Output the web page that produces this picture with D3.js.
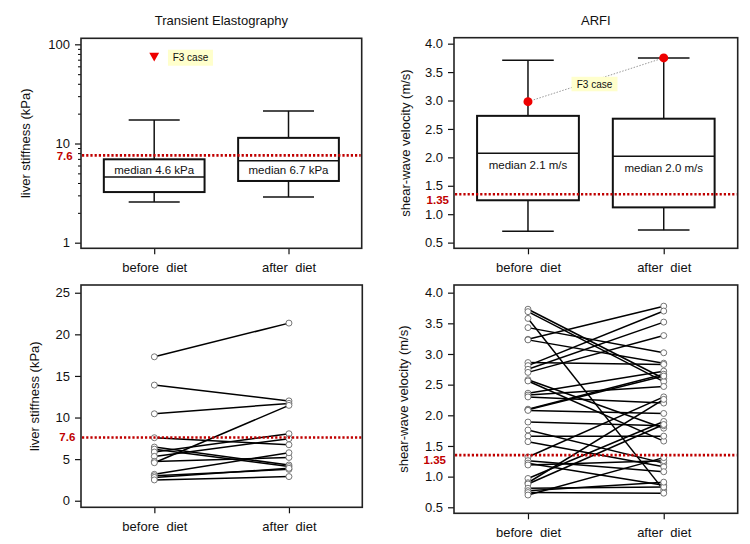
<!DOCTYPE html>
<html><head><meta charset="utf-8">
<script src="https://cdn.jsdelivr.net/npm/d3@7"></script>
<style>
body{margin:0;background:#fff;}
svg{font-family:"Liberation Sans",Arial,sans-serif;}
</style></head><body>
<svg id="c" width="750" height="544"></svg>
<script>
// ---------- DATA ----------
const groups = ["before  diet", "after  diet"];
const groupPos = [1, 2];

// Box statistics [min, q1, median, q3, max]
const teBoxBefore = [2.57, 3.24, 4.59, 6.93, 17.3];
const teBoxAfter  = [2.89, 4.19, 6.71, 11.4, 21.3];
const teMedianLabels = ["median 4.6 kPa", "median 6.7 kPa"];
const teF3Before = 75;

const arfiBoxBefore = [0.70, 1.245, 2.07, 2.73, 3.71];
const arfiBoxAfter  = [0.72, 1.12, 2.02, 2.68, 3.75];
const arfiMedianLabels = ["median 2.1 m/s", "median 2.0 m/s"];
const arfiF3 = [2.98, 3.75];

// Paired values
const teBefore = [17.3, 13.9, 10.45, 7.57, 6.45, 6.2, 5.85, 5.33, 4.73, 4.57, 3.17, 3.0, 2.8, 2.5];
const teAfter  = [21.35, 12.0, 11.7, 6.73, 4.29, 4.1, 8.05, 7.45, 5.2, 11.46, 5.77, 3.77, 3.9, 2.9];

const arfiBefore = [3.73, 3.69, 3.58, 3.43, 3.24, 3.23, 2.86, 2.81, 2.75, 2.70,
  2.58, 2.56, 2.36, 2.33, 2.30, 2.10, 2.09, 2.08, 1.89, 1.76, 1.66, 1.57,
  1.32, 1.26, 1.22, 1.19, 0.97, 0.90, 0.88, 0.81, 0.77, 0.74, 0.70];
const arfiAfter = [2.60, 2.55, 0.78, 3.02, 3.78, 2.85, 2.83, 3.70, 3.52, 3.30,
  1.79, 1.58, 2.72, 2.47, 2.20, 2.67, 2.64, 2.03, 1.83, 1.22, 1.66, 1.16,
  2.30, 1.08, 0.86, 1.26, 1.90, 2.26, 1.85, 0.83, 0.91, 0.73, 1.31];

// Ticks and thresholds
const teLogTicks = [1, 10, 100];
const teLogMinor = [2,3,4,5,6,7,8,9,20,30,40,50,60,70,80,90];
const teLinTicks = [0, 5, 10, 15, 20, 25];
const arfiTicks = [0.5, 1.0, 1.5, 2.0, 2.5, 3.0, 3.5, 4.0];
const teCutoff = 7.6, arfiCutoff = 1.35;

// ---------- DRAWING ----------
const svg = d3.select("#c");
const RED = "#c00000";
const xDomain = [0.455, 2.545];

function panel(p) {
  const g = svg.append("g");
  const x = d3.scaleLinear().domain(xDomain).range([p.left, p.right]);
  const y = (p.log ? d3.scaleLog() : d3.scaleLinear()).domain(p.yDomain).range([p.bottom, p.top]);

  // y axis
  const ya = g.append("g").attr("transform", `translate(${p.left},0)`)
    .call(d3.axisLeft(y).tickValues(p.ticks).tickFormat(p.fmt).tickSize(6).tickPadding(5));
  if (p.minor) {
    g.append("g").attr("transform", `translate(${p.left},0)`)
      .call(d3.axisLeft(y).tickValues(p.minor).tickFormat("").tickSize(3))
      .call(s => s.select(".domain").remove());
  }
  // x axis
  const xa = g.append("g").attr("transform", `translate(0,${p.bottom})`)
    .call(d3.axisBottom(x).tickValues(groupPos).tickFormat((d, i) => groups[i]).tickSize(6).tickPadding(8));
  [ya, xa].forEach(a => {
    a.attr("font-size", 13).attr("font-family", "Liberation Sans, Arial, sans-serif");
    a.select(".domain").remove();
    a.selectAll("line").attr("stroke", "#111").attr("stroke-width", 1.2);
    a.selectAll("text").attr("fill", "#111").style("white-space", "pre");
  });

  // title
  if (p.title) g.append("text").attr("x", (p.left + p.right) / 2).attr("y", 25)
    .attr("text-anchor", "middle").attr("font-size", 13).attr("fill", "#111").text(p.title);
  // y label
  const cy = (p.top + p.bottom) / 2;
  g.append("text").attr("transform", `translate(${p.ylabX},${cy}) rotate(-90)`)
    .attr("text-anchor", "middle").attr("font-size", 13).attr("fill", "#111").text(p.ylabel);

  return {g, x, y};
}

function frame(P, p) {
  P.g.append("rect").attr("x", p.left).attr("y", p.top)
    .attr("width", p.right - p.left).attr("height", p.bottom - p.top)
    .attr("fill", "none").attr("stroke", "#222").attr("stroke-width", 1.6);
}

function cutoff(P, p, v, label, dy, rx) {
  P.g.append("line").attr("x1", p.left + 1).attr("x2", p.right - 1)
    .attr("y1", P.y(v)).attr("y2", P.y(v))
    .attr("stroke", RED).attr("stroke-width", 2.6).attr("stroke-dasharray", "2.2,2");
  P.g.append("text").attr("x", rx).attr("y", P.y(v) + dy)
    .attr("text-anchor", "end").attr("font-size", 11.5).attr("font-weight", "bold")
    .attr("fill", RED).text(label);
}

function boxes(P, stats, labels, offs) {
  stats.forEach((s, i) => {
    const cx = P.x(groupPos[i]);
    const hw = P.x(groupPos[i] + 0.375) - cx, cw = P.x(groupPos[i] + 0.19) - cx;
    const g = P.g;
    g.append("line").attr("x1", cx).attr("x2", cx).attr("y1", P.y(s[4])).attr("y2", P.y(s[3]))
      .attr("stroke", "#111").attr("stroke-width", 1.5);
    g.append("line").attr("x1", cx).attr("x2", cx).attr("y1", P.y(s[1])).attr("y2", P.y(s[0]))
      .attr("stroke", "#111").attr("stroke-width", 1.5);
    [s[0], s[4]].forEach(v => g.append("line").attr("x1", cx - cw).attr("x2", cx + cw)
      .attr("y1", P.y(v)).attr("y2", P.y(v)).attr("stroke", "#111").attr("stroke-width", 1.5));
    g.append("rect").attr("x", cx - hw).attr("y", P.y(s[3])).attr("width", 2 * hw)
      .attr("height", P.y(s[1]) - P.y(s[3])).attr("fill", "#fff").attr("stroke", "#111").attr("stroke-width", 2);
    g.append("line").attr("x1", cx - hw).attr("x2", cx + hw).attr("y1", P.y(s[2])).attr("y2", P.y(s[2]))
      .attr("stroke", "#111").attr("stroke-width", 1.5);
    g.append("text").attr("x", cx).attr("y", P.y(s[2]) + offs[i] + 4)
      .attr("text-anchor", "middle").attr("font-size", 11.5).attr("fill", "#111").text(labels[i]);
  });
}

function pairs(P, before, after) {
  before.forEach((b, i) => {
    P.g.append("line").attr("x1", P.x(1)).attr("x2", P.x(2))
      .attr("y1", P.y(b)).attr("y2", P.y(after[i]))
      .attr("stroke", "#000").attr("stroke-width", 1.5);
  });
  [[1, before], [2, after]].forEach(([gx, vals]) => {
    P.g.selectAll(null).data(vals).enter().append("circle")
      .attr("cx", P.x(gx)).attr("cy", d => P.y(d)).attr("r", 3)
      .attr("fill", "#fff").attr("stroke", "#666").attr("stroke-width", 0.9);
  });
}

function f3Label(P, cx, cy, w, h) {
  P.g.append("rect").attr("x", cx - w / 2).attr("y", cy - h / 2).attr("width", w).attr("height", h)
    .attr("fill", "#ffffcc");
  P.g.append("text").attr("x", cx).attr("y", cy + 3.5).attr("text-anchor", "middle")
    .attr("font-size", 10).attr("fill", "#111").text("F3 case");
}

// Top-left: Transient Elastography (log)
const p1 = {left: 81, right: 361.7, top: 38.3, bottom: 248.3, log: true, yDomain: [0.878, 115],
  ticks: teLogTicks, minor: teLogMinor, fmt: d3.format("d"), title: "Transient Elastography",
  ylabel: "liver stiffness (kPa)", ylabX: 29.5};
const P1 = panel(p1);
boxes(P1, [teBoxBefore, teBoxAfter], teMedianLabels, [-7, 9]);
P1.g.append("path").attr("d", d3.symbol(d3.symbolTriangle, 42)())
  .attr("transform", `translate(${P1.x(1)},${P1.y(teF3Before) - 1}) rotate(180)`).attr("fill", "#ee0000");
f3Label(P1, P1.x(1.27), P1.y(teF3Before) + 1, 45, 16);
cutoff(P1, p1, teCutoff, "7.6", 4.5, 72.7);
frame(P1, p1);

// Top-right: ARFI
const p2 = {left: 454, right: 737.7, top: 37.7, bottom: 248.3, log: false, yDomain: [0.40, 4.105],
  ticks: arfiTicks, fmt: d3.format(".1f"), title: "ARFI",
  ylabel: "shear-wave velocity (m/s)", ylabX: 409.5};
const P2 = panel(p2);
boxes(P2, [arfiBoxBefore, arfiBoxAfter], arfiMedianLabels, [12, 12]);
P2.g.append("line").attr("x1", P2.x(1)).attr("x2", P2.x(2)).attr("y1", P2.y(arfiF3[0])).attr("y2", P2.y(arfiF3[1]))
  .attr("stroke", "#999").attr("stroke-width", 1).attr("stroke-dasharray", "1.5,1.5");
arfiF3.forEach((v, i) => P2.g.append("circle").attr("cx", P2.x(groupPos[i])).attr("cy", P2.y(v)).attr("r", 4.5).attr("fill", "#ee0000"));
f3Label(P2, P2.x(1.49), P2.y(3.29), 46, 14.5);
cutoff(P2, p2, arfiCutoff, "1.35", 9.5, 449);
frame(P2, p2);

// Bottom-left: TE paired
const p3 = {left: 81, right: 362.3, top: 285, bottom: 507.3, log: false, yDomain: [-0.79, 25.93],
  ticks: teLinTicks, fmt: d3.format("d"), ylabel: "liver stiffness (kPa)", ylabX: 38.5};
const P3 = panel(p3);
pairs(P3, teBefore, teAfter);
cutoff(P3, p3, teCutoff, "7.6", 3.5, 75.3);
frame(P3, p3);

// Bottom-right: ARFI paired
const p4 = {left: 454, right: 737.7, top: 285, bottom: 513.3, log: false, yDomain: [0.402, 4.125],
  ticks: arfiTicks, fmt: d3.format(".1f"), ylabel: "shear-wave velocity (m/s)", ylabX: 407.8};
const P4 = panel(p4);
pairs(P4, arfiBefore, arfiAfter);
cutoff(P4, p4, arfiCutoff, "1.35", 8.5, 446);
frame(P4, p4);
</script>
</body></html>
